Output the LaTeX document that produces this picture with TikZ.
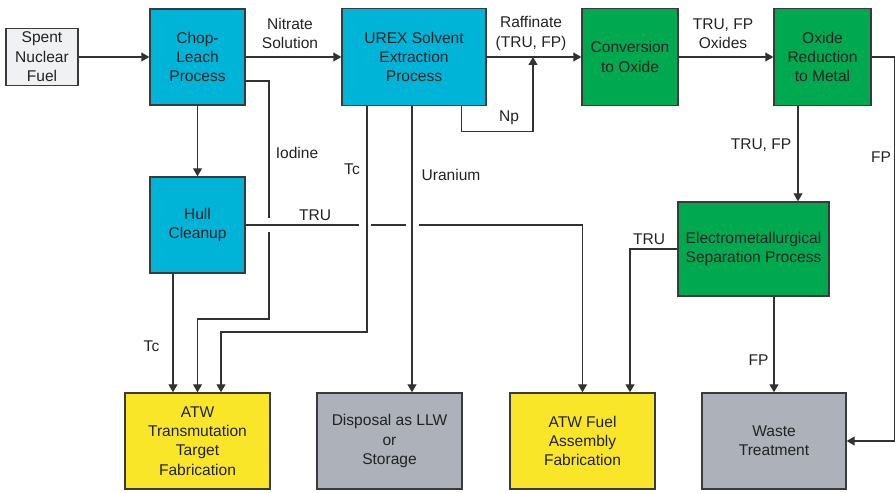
\documentclass[tikz,border=0pt]{standalone}
\usepackage{fontspec}
\setmainfont{Liberation Sans}
\definecolor{pcyan}{RGB}{0,180,216}
\definecolor{pgreen}{RGB}{0,168,80}
\definecolor{pyellow}{RGB}{250,230,40}
\definecolor{pgray}{RGB}{172,177,186}
\definecolor{spentgray}{RGB}{240,241,243}
\definecolor{boxline}{RGB}{58,58,58}
\definecolor{flowline}{RGB}{50,50,50}
\definecolor{txtdark}{RGB}{34,34,34}
\usetikzlibrary{arrows.meta,positioning,calc}

\begin{document}
\begin{tikzpicture}[x=1bp, y=-1bp,
        procbox/.style={rectangle, draw=boxline, line width=1.4bp, align=center,
                        text=txtdark, inner sep=0pt,
                        font=\fontsize{15.6}{19.5}\selectfont},
        lbl/.style={align=center, text=txtdark, inner sep=0pt,
                    font=\fontsize{15.6}{19.5}\selectfont},
        arr/.style={-{Triangle[length=8bp,width=9bp]}, line width=1.2bp, draw=flowline},
        gap/.style={draw=white, line width=4bp}
      ]
        \useasboundingbox (0,0) rectangle (895,493);

        % Head-end boxes
        \node[procbox, fill=spentgray, minimum width=72bp, minimum height=57bp] (spent) at (42,57) {Spent\\Nuclear\\Fuel};
        \node[procbox, fill=pcyan,  minimum width=95bp,  minimum height=96bp] (chop)  at (197.5,57)  {Chop-\\Leach\\Process};
        \node[procbox, fill=pcyan,  minimum width=144bp, minimum height=97bp] (urex)  at (414,57)    {UREX Solvent\\Extraction\\Process};
        \node[procbox, fill=pgreen, minimum width=96bp,  minimum height=97bp] (conv)  at (630,57)    {Conversion\\to Oxide};
        \node[procbox, fill=pgreen, minimum width=97bp,  minimum height=97bp] (oxred) at (822.5,57)  {Oxide\\Reduction\\to Metal};
        \node[procbox, fill=pcyan,  minimum width=95bp,  minimum height=96bp] (hull)  at (197.5,225) {Hull\\Cleanup};
        \node[procbox, fill=pgreen, minimum width=151bp, minimum height=94bp] (emet)  at (753.5,249) {Electrometallurgical\\Separation Process};

        % Product boxes
        \node[procbox, fill=pyellow, minimum width=145bp, minimum height=96bp] (atwt)  at (197.5,441) {ATW\\Transmutation\\Target\\Fabrication};
        \node[procbox, fill=pgray,   minimum width=145bp, minimum height=96bp] (disp)  at (389.5,441) {Disposal as LLW\\or\\Storage};
        \node[procbox, fill=pyellow, minimum width=145bp, minimum height=96bp] (atwf)  at (582.5,441) {ATW Fuel\\Assembly\\Fabrication};
        \node[procbox, fill=pgray,   minimum width=144bp, minimum height=96bp] (waste) at (774,441)   {Waste\\Treatment};

        % Main stream
        \draw[arr] (spent.east) -- (chop.west);
        \draw[arr] (chop.east) -- (urex.west);
        \draw[arr] (urex.east) -- (conv.west);
        \draw[arr] (conv.east) -- (oxred.west);
        \draw[arr] (chop) -- (hull);

        \coordinate (npjoin) at (533,57);
        \draw[arr] ($(urex.south east)+(-25,0)$) -- ++(0,25) -| (npjoin);

        % Metal stream
        \coordinate (trufp) at ($(oxred.south)+(-24.5,0)$);
        \draw[arr] (trufp) -- (trufp |- emet.north);
        \draw[arr] (oxred.east) -- ++(23,0) |- (waste.east);
        \draw[arr] (waste.north |- emet.south) -- (waste.north);
        \coordinate (trudrop) at ($(atwf.north)+(47.5,0)$);
        \draw[arr] (emet.west) -| (trudrop);

        % Iodine, TRU, Tc, uranium
        \coordinate (iodout) at ($(chop.east)+(0,24)$);
        \coordinate (iodbend) at (269,319);
        \draw[arr] (iodout) -| (iodbend) -| (atwt.north);
        \draw[gap] ($(iodbend |- hull.east)+(0,-7)$) -- ($(iodbend |- hull.east)+(0,7)$);

        \draw[arr] (hull.east) -| (atwf.north);

        \coordinate (tcout) at ($(urex.south)+(-47,0)$);
        \coordinate (uout)  at ($(urex.south)+(-2,0)$);
        \draw[gap] ($(tcout |- hull.east)+(-8,0)$) -- ($(tcout |- hull.east)+(4,0)$);
        \draw[gap] ($(uout |- hull.east)+(-6,0)$) -- ($(uout |- hull.east)+(7,0)$);

        \coordinate (tcbend) at (221,332);
        \draw[arr] (tcout) |- (tcbend) -- (tcbend |- atwt.north);
        \draw[arr] (uout) -- (uout |- disp.north);
        \coordinate (hulltc) at ($(hull.south)+(-24.5,0)$);
        \draw[arr] (hulltc) -- (hulltc |- atwt.north);

        % Stream labels
        \node[lbl] (nitrate) at (290,33.5)  {Nitrate\\Solution};
        \node[lbl] (raff)    at (531,33.5)  {Raffinate\\(TRU, FP)};
        \node[lbl] (oxides)  at (723,33.5)  {TRU, FP\\Oxides};
        \node[lbl] (nplbl)   at (509,118)   {Np};
        \node[lbl] (trufplbl) at (761,145)  {TRU, FP};
        \node[lbl] (fpright) at (881,157.5) {FP};
        \node[lbl] (iodine)  at (297,153)   {Iodine};
        \node[lbl] (tcurex)  at (352,169)   {Tc};
        \node[lbl] (uranium) at (451,175)   {Uranium};
        \node[lbl] (truhull) at (315,215)   {TRU};
        \node[lbl] (tchull)  at (151.5,346) {Tc};
        \node[lbl] (truemet) at (649,239)   {TRU};
        \node[lbl] (fpemet)  at (758.5,360) {FP};
      \end{tikzpicture}
\end{document}
